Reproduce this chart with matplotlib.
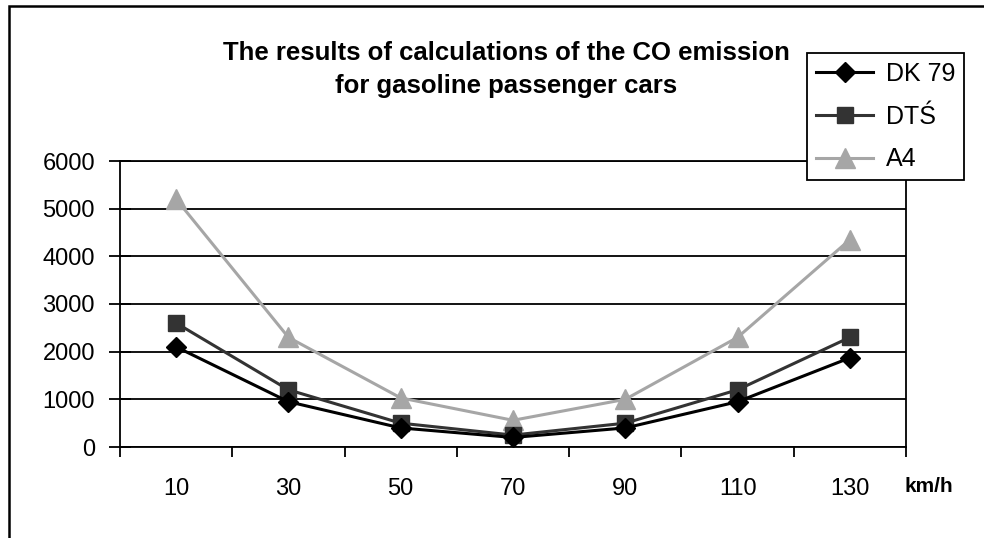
#!/usr/bin/env python3
# -*- coding: utf-8 -*-
"""CO emission for gasoline passenger cars - Excel style line chart."""

# %% Load libraries
import numpy as np
import matplotlib.pyplot as plt
from matplotlib.patches import Rectangle
from matplotlib.ticker import FixedLocator, NullFormatter

# %% Data
speeds = ["10", "30", "50", "70", "90", "110", "130"]
dk79 = [2100, 950, 400, 200, 400, 950, 1870]
dts = [2600, 1200, 500, 250, 500, 1200, 2300]
a4 = [5200, 2300, 1030, 560, 1000, 2300, 4350]

# %% Setup
plt.rcParams['font.family'] = ['Liberation Sans', 'DejaVu Sans']

W, H = 984, 538
fig = plt.figure(figsize=(W / 100, H / 100), dpi=100)

# plot area in pixels: left 120, right 906, top 161, bottom 447
ax = fig.add_axes([120 / W, 1 - 447 / H, 786 / W, 286 / H])

x = np.arange(len(speeds))

# --+ series
ax.plot(x, dk79, color='black', lw=2.2, marker='D', ms=10, mfc='black',
        mec='black', label='DK 79', zorder=5)
ax.plot(x, dts, color='#333333', lw=2.2, marker='s', ms=12, mfc='#333333',
        mec='#333333', label='DTŚ', zorder=4)
ax.plot(x, a4, color='#a6a6a6', lw=2.2, marker='^', ms=15, mfc='#a6a6a6',
        mec='#a6a6a6', label='A4', zorder=3)

# --+ axes
ax.set_xlim(-0.5, len(speeds) - 0.5)
ax.set_ylim(0, 6000)
ax.set_yticks(range(0, 6001, 1000))
ax.yaxis.grid(True, color='black', lw=1.3)
ax.set_axisbelow(True)

ax.xaxis.set_major_locator(FixedLocator(np.arange(-0.5, len(speeds), 1.0)))
ax.xaxis.set_major_formatter(NullFormatter())
ax.xaxis.set_minor_locator(FixedLocator(x))
ax.set_xticklabels(speeds, minor=True)

ax.tick_params(axis='x', which='major', direction='out', length=7,
               width=1.3, color='black')
ax.tick_params(axis='x', which='minor', length=0, pad=22, labelsize=17)
ax.tick_params(axis='y', direction='inout', length=16, width=1.3,
               labelsize=17, pad=10)

for s in ax.spines.values():
    s.set_color('black')
    s.set_linewidth(1.3)

# --+ unit label
fig.text(929 / W, 1 - 486 / H, 'km/h', ha='center', va='center',
         fontsize=15, fontweight='bold')

# --+ title (two lines, baselines at 60 px and 93 px)
fig.text(506 / W, 1 - 60 / H, 'The results of calculations of the CO emission',
         ha='center', va='baseline', fontsize=18.5, fontweight='bold')
fig.text(506 / W, 1 - 93 / H, 'for gasoline passenger cars',
         ha='center', va='baseline', fontsize=18.5, fontweight='bold')

# --+ legend
leg = fig.legend(loc='upper left', bbox_to_anchor=(807 / W, 1 - 53 / H),
                 fontsize=18, frameon=True, fancybox=False, framealpha=1,
                 edgecolor='black', handlelength=2.3, borderpad=0.35,
                 labelspacing=0.75, handletextpad=0.5, borderaxespad=0)
leg.get_frame().set_linewidth(1.3)
leg.set_zorder(10)

# --+ outer chart border
fig.patches.append(Rectangle((9 / W, -0.05), 1.05, 1 - 6 / H + 0.05,
                             transform=fig.transFigure, fill=False,
                             edgecolor='black', lw=1.8))

# %% Save
fig.savefig('out.png', dpi=100)
